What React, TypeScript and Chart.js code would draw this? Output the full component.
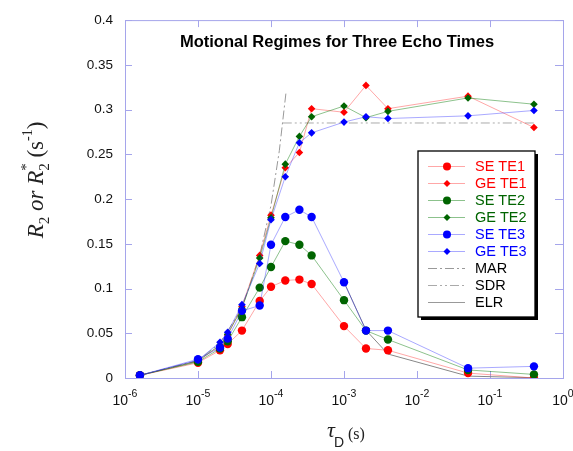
import React, { useEffect, useRef } from "react";
import { Chart, registerables } from "chart.js";

Chart.register(...registerables);

// ---------- data ----------
const tauD = [1.6e-6, 1.0e-5, 2.0e-5, 2.55e-5, 4.0e-5, 7.0e-5, 1.0e-4, 1.57e-4, 2.45e-4, 3.6e-4, 1.0e-3, 2.0e-3, 4.0e-3, 0.05, 0.4];

const seTE1 = [0.003, 0.017, 0.031, 0.038, 0.053, 0.086, 0.102, 0.109, 0.110, 0.105, 0.058, 0.033, 0.031, 0.0055, 0.0];
const geTE1 = [0.003, 0.019, 0.036, 0.048, 0.080, 0.137, 0.182, 0.235, 0.252, 0.301, 0.297, 0.327, 0.301, 0.315, 0.280];
const seTE2 = [0.003, 0.018, 0.033, 0.041, 0.068, 0.101, 0.124, 0.153, 0.149, 0.137, 0.087, 0.053, 0.043, 0.009, 0.004];
const geTE2 = [0.003, 0.019, 0.037, 0.049, 0.078, 0.134, 0.179, 0.239, 0.270, 0.292, 0.304, 0.291, 0.298, 0.313, 0.306];
const seTE3 = [0.003, 0.021, 0.034, 0.044, 0.075, 0.081, 0.149, 0.180, 0.188, 0.180, 0.107, 0.053, 0.053, 0.011, 0.013];
const geTE3 = [0.003, 0.020, 0.040, 0.051, 0.082, 0.128, 0.177, 0.225, 0.263, 0.274, 0.286, 0.292, 0.290, 0.293, 0.299];

const marX = [1.6e-6, 1.0e-5, 2.0e-5, 4.0e-5, 7.0e-5, 1.0e-4, 1.3e-4, 1.6e-4];
const marY = [0.003, 0.0195, 0.039, 0.078, 0.137, 0.193, 0.254, 0.318];
const sdrX = [1.45e-4, 0.4];
const sdrY = [0.285, 0.285];
const elrX = [1.0e-3, 2.0e-3, 4.0e-3, 0.05, 0.4];
const elrY = [0.107, 0.0535, 0.0268, 0.0021, 0.0003];

const xTickExponents = [-6, -5, -4, -3, -2, -1, 0];
const yTickValues = [0, 0.05, 0.1, 0.15, 0.2, 0.25, 0.3, 0.35, 0.4];

const titleText = "Motional Regimes for Three Echo Times";
const legendNames = ["SE TE1", "GE TE1", "SE TE2", "GE TE2", "SE TE3", "GE TE3", "MAR", "SDR", "ELR"];

// ---------- styles ----------
const RED = "#ff0000";
const GREEN = "#006400";
const BLUE = "#0000ff";
const RED_LINE = "rgba(255,60,60,0.45)";
const GREEN_LINE = "rgba(0,120,0,0.45)";
const BLUE_LINE = "rgba(40,40,255,0.4)";
const FRAME = "rgb(165,165,235)";
const SANS = "Arial, 'Liberation Sans', sans-serif";
const SERIF = "'Times New Roman', 'Liberation Serif', serif";
const MAR_DASH = [9, 3, 2, 3];
const SDR_DASH = [9, 3, 2, 3, 2, 3];

const pts = (xs: number[], ys: number[]) => xs.map((x, i) => ({ x, y: ys[i] }));

type Seg = { t: string; font: string; dy?: number; noAdvance?: boolean };

function segsWidth(ctx: CanvasRenderingContext2D, segs: Seg[]) {
  let w = 0;
  for (const s of segs) {
    ctx.font = s.font;
    if (!s.noAdvance) w += ctx.measureText(s.t).width;
  }
  return w;
}
function drawSegs(ctx: CanvasRenderingContext2D, segs: Seg[], x: number, y: number) {
  let cx = x;
  for (const s of segs) {
    ctx.font = s.font;
    ctx.fillText(s.t, cx, y + (s.dy || 0));
    if (!s.noAdvance) cx += ctx.measureText(s.t).width;
  }
}

const legendItems = [
  { color: RED, line: RED_LINE, marker: "circle" },
  { color: RED, line: RED_LINE, marker: "diamond" },
  { color: GREEN, line: GREEN_LINE, marker: "circle" },
  { color: GREEN, line: GREEN_LINE, marker: "diamond" },
  { color: BLUE, line: BLUE_LINE, marker: "circle" },
  { color: BLUE, line: BLUE_LINE, marker: "diamond" },
  { color: "#000", line: "#999", marker: "", dash: MAR_DASH },
  { color: "#000", line: "#aaa", marker: "", dash: SDR_DASH },
  { color: "#000", line: "#999", marker: "", dash: [] as number[] },
];

const framePlugin = {
  id: "frameTicks",
  beforeDatasetsDraw(chart: any) {
    const { ctx, chartArea: a, scales } = chart;
    ctx.save();
    ctx.strokeStyle = FRAME;
    ctx.lineWidth = 1;
    ctx.strokeRect(a.left + 0.5, a.top + 0.5, a.right - a.left, a.bottom - a.top);
    ctx.beginPath();
    for (const v of yTickValues) {
      const y = Math.round(scales.y.getPixelForValue(v)) + 0.5;
      ctx.moveTo(a.left, y);
      ctx.lineTo(a.left + 7, y);
      ctx.moveTo(a.right, y);
      ctx.lineTo(a.right - 8, y);
    }
    for (const e of xTickExponents) {
      const x = Math.round(scales.x.getPixelForValue(Math.pow(10, e))) + 0.5;
      ctx.moveTo(x, a.bottom);
      ctx.lineTo(x, a.bottom - 7);
      ctx.moveTo(x, a.top);
      ctx.lineTo(x, a.top + 7);
    }
    ctx.stroke();
    ctx.restore();
  },
  afterDraw(chart: any) {
    const { ctx, chartArea: a, scales } = chart;
    ctx.save();
    ctx.fillStyle = "#111";
    ctx.textBaseline = "alphabetic";
    ctx.textAlign = "left";
    // x tick labels with superscripts
    for (const e of xTickExponents) {
      const x = scales.x.getPixelForValue(Math.pow(10, e));
      const segs: Seg[] = [
        { t: "10", font: `14px ${SANS}` },
        { t: String(e), font: `10.5px ${SANS}`, dy: -8 },
      ];
      const w = segsWidth(ctx, segs);
      drawSegs(ctx, segs, x - w / 2, a.bottom + 27);
    }
    // title
    ctx.font = `bold 16.5px ${SANS}`;
    ctx.textAlign = "center";
    ctx.fillStyle = "#000";
    ctx.fillText(titleText, 337, 47);
    ctx.textAlign = "left";
    // x axis title
    ctx.fillStyle = "#222";
    ctx.font = `italic 22px ${SERIF}`;
    ctx.fillText("\u03c4", 327, 437);
    ctx.font = `14px ${SANS}`;
    ctx.fillText("D", 334, 447);
    ctx.font = `16px ${SERIF}`;
    ctx.fillText("(s)", 348, 439);
    // y axis title
    const it = `italic 23px ${SERIF}`;
    const rg = `23px ${SERIF}`;
    const sm = `15px ${SERIF}`;
    const ysegs: Seg[] = [
      { t: "R", font: it },
      { t: "2", font: sm, dy: 6 },
      { t: " or ", font: it },
      { t: "R", font: it },
      { t: "*", font: sm, dy: -12, noAdvance: true },
      { t: "2", font: sm, dy: 6 },
      { t: " (s", font: rg },
      { t: "-1", font: `14px ${SERIF}`, dy: -11 },
      { t: ")", font: rg },
    ];
    const yw = segsWidth(ctx, ysegs);
    ctx.save();
    ctx.translate(43, 180);
    ctx.rotate(-Math.PI / 2);
    drawSegs(ctx, ysegs, -yw / 2, 0);
    ctx.restore();

    // legend
    const bx = 418, by = 151, bw = 117, bh = 166;
    ctx.fillStyle = "#000";
    ctx.fillRect(bx + 3, by + 3, bw, bh);
    ctx.fillStyle = "#fff";
    ctx.fillRect(bx, by, bw, bh);
    ctx.strokeStyle = "#000";
    ctx.lineWidth = 1.3;
    ctx.strokeRect(bx, by, bw, bh);
    legendItems.forEach((it2, i) => {
      const y = 166 + i * 17;
      ctx.save();
      ctx.strokeStyle = it2.line;
      ctx.lineWidth = 1;
      ctx.setLineDash(it2.dash || []);
      ctx.beginPath();
      ctx.moveTo(428, y + 0.5);
      ctx.lineTo(465, y + 0.5);
      ctx.stroke();
      ctx.restore();
      ctx.fillStyle = it2.color;
      if (it2.marker === "circle") {
        ctx.beginPath();
        ctx.arc(447, y + 0.5, 4, 0, Math.PI * 2);
        ctx.fill();
      } else if (it2.marker === "diamond") {
        ctx.beginPath();
        ctx.moveTo(447, y + 0.5 - 3.5);
        ctx.lineTo(447 + 3.5, y + 0.5);
        ctx.lineTo(447, y + 0.5 + 3.5);
        ctx.lineTo(447 - 3.5, y + 0.5);
        ctx.closePath();
        ctx.fill();
      }
      ctx.font = `14.5px ${SANS}`;
      ctx.textBaseline = "middle";
      ctx.fillText(legendNames[i], 475, y + 1);
      ctx.textBaseline = "alphabetic";
    });
    ctx.restore();
  },
};

function seriesDs(label: string, data: number[], color: string, line: string, style: string, order: number) {
  return {
    label,
    data: pts(tauD, data),
    borderColor: line,
    borderWidth: 1,
    backgroundColor: color,
    pointBackgroundColor: color,
    pointBorderColor: color,
    pointBorderWidth: 0,
    pointStyle: style,
    pointRadius: style === "circle" ? 4.2 : 3.8,
    tension: 0,
    order,
  };
}

export default function App() {
  const ref = useRef<HTMLCanvasElement | null>(null);
  useEffect(() => {
    if (!ref.current) return;
    const chart = new Chart(ref.current, {
      type: "line",
      data: {
        datasets: [
          { label: "MAR", data: pts(marX, marY), borderColor: "#999", borderWidth: 1, borderDash: MAR_DASH, pointRadius: 0, order: 10 } as any,
          { label: "SDR", data: pts(sdrX, sdrY), borderColor: "#aaa", borderWidth: 1, borderDash: SDR_DASH, pointRadius: 0, order: 10 } as any,
          { label: "ELR", data: pts(elrX, elrY), borderColor: "#888", borderWidth: 1, pointRadius: 0, order: 9 } as any,
          seriesDs("SE TE1", seTE1, RED, RED_LINE, "circle", 5),
          seriesDs("GE TE1", geTE1, RED, RED_LINE, "rectRot", 4),
          seriesDs("SE TE2", seTE2, GREEN, GREEN_LINE, "circle", 3),
          seriesDs("GE TE2", geTE2, GREEN, GREEN_LINE, "rectRot", 2),
          seriesDs("SE TE3", seTE3, BLUE, BLUE_LINE, "circle", 1),
          seriesDs("GE TE3", geTE3, BLUE, BLUE_LINE, "rectRot", 0),
        ],
      },
      options: {
        animation: false,
        responsive: true,
        maintainAspectRatio: false,
        layout: { padding: { left: 0, top: 17, right: 10, bottom: 0 } },
        plugins: { legend: { display: false }, tooltip: { enabled: false }, title: { display: false } },
        scales: {
          x: {
            type: "logarithmic",
            min: 1e-6,
            max: 1,
            grid: { display: false, drawTicks: false },
            border: { display: false },
            ticks: { display: false },
            afterFit: (s: any) => { s.height = 73; },
          },
          y: {
            min: 0,
            max: 0.4,
            grid: { display: false, drawTicks: false },
            border: { display: false },
            ticks: {
              stepSize: 0.05,
              padding: 12,
              color: "#111",
              font: { family: SANS, size: 13.5 },
              callback: (v: any) => String(Number(Number(v).toFixed(2))),
            },
            afterFit: (s: any) => { s.width = 125; },
          },
        },
      } as any,
      plugins: [framePlugin],
    });
    return () => chart.destroy();
  }, []);
  return (
    <div style={{ position: "fixed", left: 0, top: 0, width: 573, height: 451, background: "#fff" }}>
      <canvas ref={ref} />
    </div>
  );
}
